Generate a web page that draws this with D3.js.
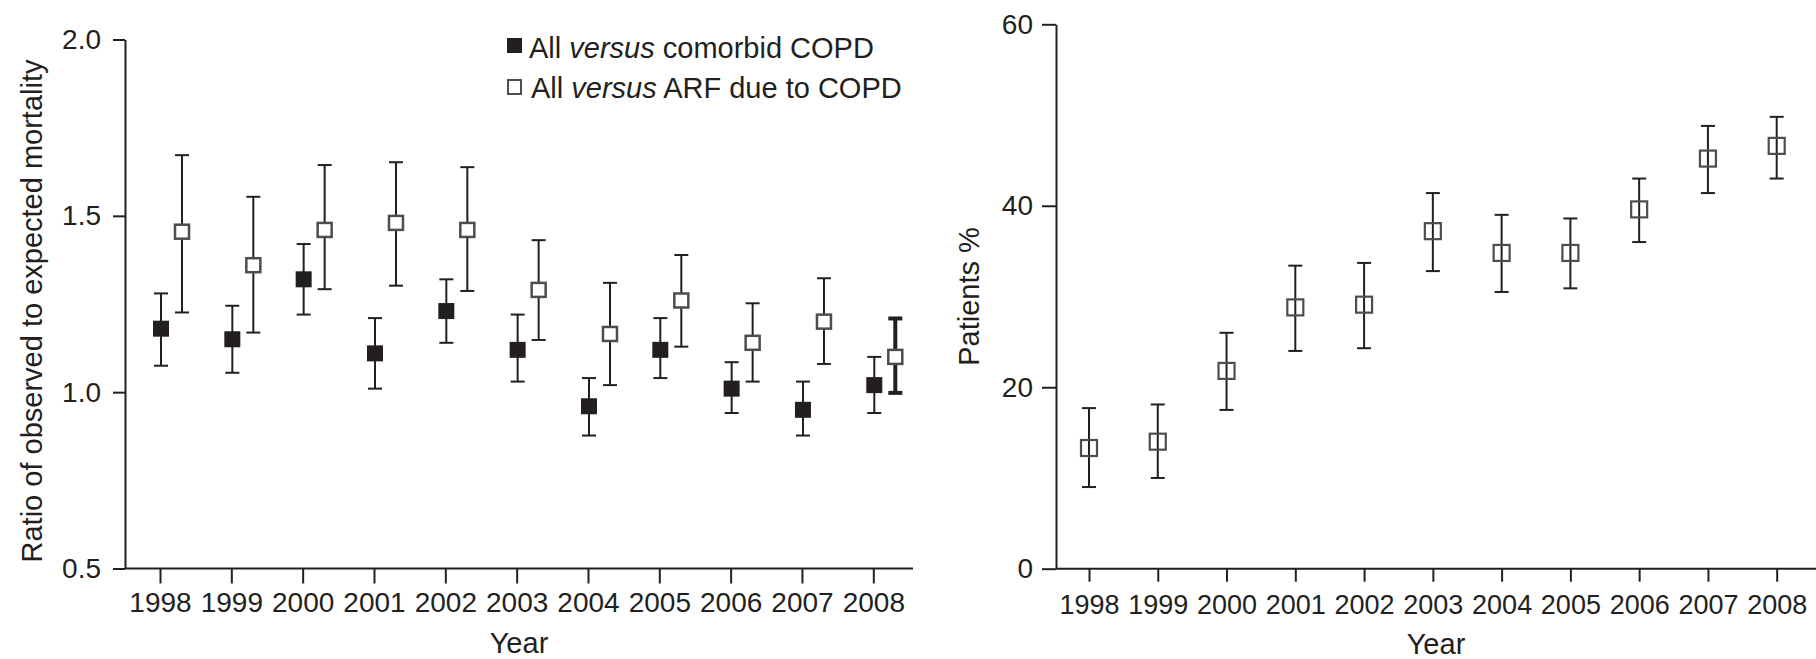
<!DOCTYPE html>
<html>
<head>
<meta charset="utf-8">
<script src="https://cdn.jsdelivr.net/npm/d3@7"></script>
<style>
  body { margin: 0; background: #fff; }
  svg { display: block; font-family: "Liberation Sans", Arial, sans-serif; }
</style>
</head>
<body>
<svg id="chart" width="1816" height="659"></svg>
<script>
// Calendar years shared by both panels
const years = [1998, 1999, 2000, 2001, 2002, 2003, 2004, 2005, 2006, 2007, 2008];

// Left panel: ratio of observed to expected mortality (point, lower CI, upper CI)
const comorbidRatio = [1.18, 1.15, 1.32, 1.11, 1.23, 1.12, 0.96, 1.12, 1.01, 0.95, 1.02];
const comorbidLow   = [1.075, 1.055, 1.22, 1.01, 1.14, 1.03, 0.877, 1.04, 0.941, 0.877, 0.941];
const comorbidHigh  = [1.28, 1.245, 1.42, 1.21, 1.32, 1.22, 1.04, 1.21, 1.085, 1.03, 1.10];

const arfRatio = [1.455, 1.36, 1.46, 1.48, 1.46, 1.29, 1.165, 1.26, 1.14, 1.20, 1.10];
const arfLow   = [1.226, 1.169, 1.292, 1.302, 1.287, 1.148, 1.02, 1.129, 1.03, 1.08, 0.998];
const arfHigh  = [1.672, 1.554, 1.644, 1.652, 1.638, 1.431, 1.31, 1.389, 1.252, 1.323, 1.209];

// Right panel: patients % (point, lower CI, upper CI)
const patientsPct  = [13.3, 14.0, 21.8, 28.8, 29.1, 37.2, 34.8, 34.8, 39.6, 45.2, 46.6];
const patientsLow  = [9.0, 10.0, 17.5, 24.0, 24.3, 32.8, 30.5, 30.9, 36.0, 41.4, 43.0];
const patientsHigh = [17.7, 18.1, 26.0, 33.4, 33.7, 41.4, 39.0, 38.6, 43.0, 48.8, 49.8];

// Axis tick values and text
const ratioTicks = [0.5, 1.0, 1.5, 2.0];
const pctTicks = [0, 20, 40, 60];
const legendLabels = [
  { pre: "All ", em: "versus", post: " comorbid COPD" },
  { pre: "All ", em: "versus", post: " ARF due to COPD" }
];

const ink = "#231f20";
const openInk = "#4d4d4d";
const svg = d3.select("#chart");

function styleAxis(g, fontSize) {
  g.attr("font-size", fontSize).attr("font-family", null);
  g.selectAll("path, line").attr("stroke", ink).attr("stroke-width", 2);
  g.selectAll("text").attr("fill", ink);
}

function errorBars(g, xs, lo, hi, y, cap, widthFn) {
  const bars = g.selectAll(null).data(years).enter().append("g")
    .attr("stroke", ink)
    .attr("stroke-width", (d, i) => widthFn ? widthFn(i) : 2);
  bars.append("line")
    .attr("x1", (d, i) => xs(i)).attr("x2", (d, i) => xs(i))
    .attr("y1", (d, i) => y(lo[i])).attr("y2", (d, i) => y(hi[i]));
  bars.append("line")
    .attr("x1", (d, i) => xs(i) - cap / 2).attr("x2", (d, i) => xs(i) + cap / 2)
    .attr("y1", (d, i) => y(hi[i])).attr("y2", (d, i) => y(hi[i]));
  bars.append("line")
    .attr("x1", (d, i) => xs(i) - cap / 2).attr("x2", (d, i) => xs(i) + cap / 2)
    .attr("y1", (d, i) => y(lo[i])).attr("y2", (d, i) => y(lo[i]));
}

// ---------- Left panel ----------
{
  const x = d3.scaleLinear().domain([1998, 2008]).range([160, 873.3]);
  const y = d3.scaleLinear().domain([0.5, 2.0]).range([568.5, 39.5]);
  const g = svg.append("g");

  const yAxis = g.append("g").attr("transform", "translate(125,0)")
    .call(d3.axisLeft(y).tickValues(ratioTicks).tickFormat(d3.format(".1f"))
      .tickSize(12).tickSizeOuter(0).tickPadding(12));
  styleAxis(yAxis, 28);

  const xAxis = g.append("g").attr("transform", "translate(0,568.5)")
    .call(d3.axisBottom(x).tickValues(years).tickFormat(d3.format("d"))
      .tickSize(15).tickPadding(9));
  xAxis.select(".domain").remove();
  styleAxis(xAxis, 28);
  g.append("line").attr("x1", 125).attr("x2", 913).attr("y1", 568.5).attr("y2", 568.5)
    .attr("stroke", ink).attr("stroke-width", 2);

  g.append("text").attr("x", 519).attr("y", 653).attr("text-anchor", "middle")
    .attr("font-size", 29).attr("fill", ink).text("Year");
  g.append("text").attr("transform", "translate(42,311) rotate(-90)")
    .attr("text-anchor", "middle").attr("font-size", 29).attr("fill", ink)
    .text("Ratio of observed to expected mortality");

  const xFilled = i => x(years[i]) + 1;
  const xOpen = i => x(years[i]) + 22;

  errorBars(g, xFilled, comorbidLow, comorbidHigh, y, 14);
  // the last ARF interval is drawn with a heavier stroke
  errorBars(g, xOpen, arfLow, arfHigh, y, 14, i => i === years.length - 1 ? 4 : 2);

  const s = 16;
  g.selectAll(null).data(comorbidRatio).enter().append("rect")
    .attr("x", (d, i) => xFilled(i) - s / 2).attr("y", d => y(d) - s / 2)
    .attr("width", s).attr("height", s).attr("fill", ink);
  g.selectAll(null).data(arfRatio).enter().append("rect")
    .attr("x", (d, i) => xOpen(i) - (s - 2) / 2).attr("y", d => y(d) - (s - 2) / 2)
    .attr("width", s - 2).attr("height", s - 2)
    .attr("fill", "#fff").attr("stroke", openInk).attr("stroke-width", 2.5);

  // Legend
  const lg = g.append("g");
  lg.append("rect").attr("x", 507).attr("y", 38).attr("width", 15).attr("height", 15).attr("fill", ink);
  lg.append("rect").attr("x", 508).attr("y", 80).attr("width", 13).attr("height", 14)
    .attr("fill", "#fff").attr("stroke", openInk).attr("stroke-width", 2);
  legendLabels.forEach((lab, k) => {
    const t = lg.append("text").attr("x", k === 0 ? 529 : 531).attr("y", 58 + k * 40)
      .attr("font-size", 29).attr("fill", ink);
    t.append("tspan").text(lab.pre);
    t.append("tspan").attr("font-style", "italic").text(lab.em);
    t.append("tspan").text(lab.post);
  });
}

// ---------- Right panel ----------
{
  const x = d3.scaleLinear().domain([1998, 2008]).range([1089, 1776.7]);
  const y = d3.scaleLinear().domain([0, 60]).range([568.7, 24.3]);
  const g = svg.append("g");

  const yAxis = g.append("g").attr("transform", "translate(1056,0)")
    .call(d3.axisLeft(y).tickValues(pctTicks).tickFormat(d3.format("d"))
      .tickSize(14).tickSizeOuter(0).tickPadding(9));
  styleAxis(yAxis, 28);

  const xAxis = g.append("g").attr("transform", "translate(0,568.7)")
    .call(d3.axisBottom(x).tickValues(years).tickFormat(d3.format("d"))
      .tickSize(13).tickPadding(13));
  xAxis.select(".domain").remove();
  styleAxis(xAxis, 27);
  g.append("line").attr("x1", 1056).attr("x2", 1816).attr("y1", 568.7).attr("y2", 568.7)
    .attr("stroke", ink).attr("stroke-width", 2);

  g.append("text").attr("x", 1436).attr("y", 654).attr("text-anchor", "middle")
    .attr("font-size", 29).attr("fill", ink).text("Year");
  g.append("text").attr("transform", "translate(979,296.5) rotate(-90)")
    .attr("text-anchor", "middle").attr("font-size", 29).attr("fill", ink)
    .text("Patients %");

  const xs = i => x(years[i]);
  errorBars(g, xs, patientsLow, patientsHigh, y, 14);

  const s = 16;
  g.selectAll(null).data(patientsPct).enter().append("rect")
    .attr("x", (d, i) => xs(i) - s / 2).attr("y", d => y(d) - s / 2)
    .attr("width", s).attr("height", s)
    .attr("fill", "none").attr("stroke", openInk).attr("stroke-width", 2.2);
}
</script>
</body>
</html>
